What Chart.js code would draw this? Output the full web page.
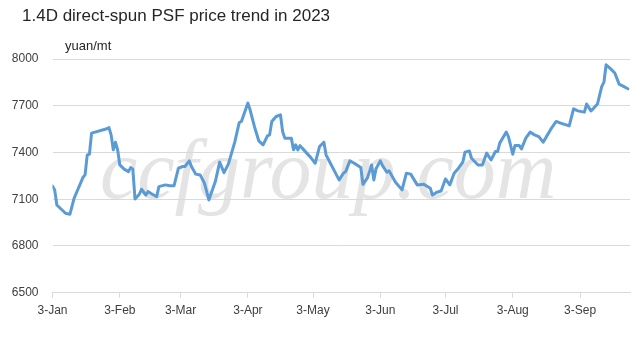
<!DOCTYPE html>
<html>
<head>
<meta charset="utf-8">
<script src="https://cdn.jsdelivr.net/npm/chart.js@4/dist/chart.umd.min.js"></script>
<style>
  html, body { margin: 0; padding: 0; background: #fff; }
  #wrap { position: relative; width: 643px; height: 341px; overflow: hidden; }
  #title { position: absolute; left: 22px; top: 6px; font: 17px "Liberation Sans", Arial, sans-serif; color: #262626; white-space: nowrap; }
  #unit { position: absolute; left: 65px; top: 38px; font: 13px "Liberation Sans", Arial, sans-serif; color: #262626; white-space: nowrap; }
  canvas { position: absolute; left: 0; top: 0; }
</style>
</head>
<body>
<div id="wrap">
  <canvas id="c" width="643" height="341"></canvas>
  <div id="title">1.4D direct-spun PSF price trend in 2023</div>
  <div id="unit">yuan/mt</div>
</div>
<script>
// x values: days counted from 3-Jan-2023
const tickDays = [0, 31, 59, 90, 120, 151, 181, 212, 243];
const tickLabels = ['3-Jan', '3-Feb', '3-Mar', '3-Apr', '3-May', '3-Jun', '3-Jul', '3-Aug', '3-Sep'];
const yTicks = [6500, 6800, 7100, 7400, 7700, 8000];

const dayOffsets = [
  0, 1, 2, 6, 8, 10, 14, 15, 16, 17, 18, 25, 26, 27, 28, 29, 30, 31, 33, 35, 36, 37,
  38, 40, 41, 43, 44, 46, 48, 49, 52, 54, 56, 58, 60, 61, 63, 64, 66, 68, 70, 72,
  75, 77, 79, 81, 84, 86, 87, 90, 91, 93, 95, 97, 99, 100, 101, 103, 105, 106, 107,
  110, 111, 112, 113, 114, 115, 119, 121, 123, 125, 126, 128, 130, 132, 134, 135,
  137, 139, 142, 143, 145, 146, 147, 148, 149, 151, 152, 154, 155, 158, 161, 163,
  165, 168, 171, 174, 175, 177, 179, 181, 183, 185, 187, 189, 190, 192, 193, 196,
  198, 200, 202, 204, 205, 206, 209, 210, 212, 213, 215, 216, 218, 220, 222, 224,
  226, 228, 230, 232, 234, 238, 240, 242, 245, 246, 248, 249, 251, 253, 254, 255,
  257, 259, 261, 263, 265
];
const prices = [
  7185, 7160, 7063, 7010, 7003, 7108, 7239, 7256, 7385, 7389, 7524, 7552, 7560, 7513, 7417, 7466, 7417, 7320, 7293, 7277, 7303, 7293,
  7102, 7132, 7164, 7127, 7149, 7132, 7117, 7181, 7192, 7187, 7187, 7299, 7310, 7310, 7346, 7310, 7261, 7256, 7203, 7095,
  7213, 7338, 7271, 7325, 7470, 7592, 7599, 7717, 7674, 7567, 7475, 7449, 7507, 7513, 7599, 7631, 7642, 7534, 7492,
  7492, 7417, 7449, 7417, 7444, 7428, 7367, 7331, 7438, 7466, 7385, 7331, 7277, 7224, 7267, 7277,
  7346, 7331, 7303, 7196, 7235, 7277, 7320, 7224, 7295, 7346, 7316, 7273, 7282, 7209, 7160, 7267,
  7261, 7192, 7196, 7170, 7127, 7145, 7153, 7230, 7192, 7267, 7299, 7338, 7402, 7410, 7363, 7320,
  7320, 7396, 7352, 7406, 7406, 7460, 7531, 7502, 7389, 7444, 7444, 7423, 7492, 7531, 7513, 7502,
  7466, 7513, 7560, 7599, 7588, 7571, 7680, 7667, 7659, 7711, 7667, 7680, 7711, 7824, 7852, 7963,
  7938, 7910, 7839, 7824, 7809
];
const watermarkText = 'ccfgroup.com';

const points = dayOffsets.map((d, i) => ({ x: d, y: prices[i] }));

const watermark = {
  id: 'watermark',
  beforeDraw(chart) {
    const ctx = chart.ctx;
    ctx.save();
    ctx.font = 'italic 84px "Liberation Serif", "DejaVu Serif", serif';
    ctx.fillStyle = '#e4e4e4';
    ctx.textBaseline = 'alphabetic';
    ctx.textAlign = 'left';
    ctx.fillText(watermarkText, 100, 198);
    ctx.restore();
  }
};

new Chart(document.getElementById('c'), {
  type: 'line',
  data: {
    datasets: [{
      data: points,
      borderColor: '#5b9bd5',
      borderWidth: 3,
      pointRadius: 0,
      tension: 0,
      fill: false,
      borderJoinStyle: 'round',
      borderCapStyle: 'round'
    }]
  },
  options: {
    responsive: false,
    animation: false,
    events: [],
    layout: { padding: { top: 59, right: 13, bottom: 0, left: 0 } },
    plugins: { legend: { display: false }, tooltip: { enabled: false }, title: { display: false } },
    scales: {
      x: {
        type: 'linear',
        min: 0,
        max: 266,
        afterBuildTicks(scale) { scale.ticks = tickDays.map(v => ({ value: v })); },
        afterFit(scale) { scale.height = 48.3; },
        ticks: {
          autoSkip: false,
          maxRotation: 0,
          padding: 6,
          color: '#404040',
          font: { family: '"Liberation Sans", Arial, sans-serif', size: 12 },
          callback(value) { const i = tickDays.indexOf(value); return i >= 0 ? tickLabels[i] : ''; }
        },
        grid: { drawOnChartArea: false, drawTicks: true, tickLength: 5, color: '#d9d9d9', lineWidth: 1 },
        border: { display: true, color: '#d9d9d9', width: 1 }
      },
      y: {
        min: 6500,
        max: 8000,
        afterBuildTicks(scale) { scale.ticks = yTicks.map(v => ({ value: v })); },
        afterFit(scale) { scale.width = 52.5; },
        ticks: {
          padding: 14,
          color: '#404040',
          font: { family: '"Liberation Sans", Arial, sans-serif', size: 12 },
          callback(value) { return String(value); }
        },
        grid: { drawTicks: false, color: '#d9d9d9', lineWidth: 1 },
        border: { display: false }
      }
    }
  },
  plugins: [watermark]
});
</script>
</body>
</html>
